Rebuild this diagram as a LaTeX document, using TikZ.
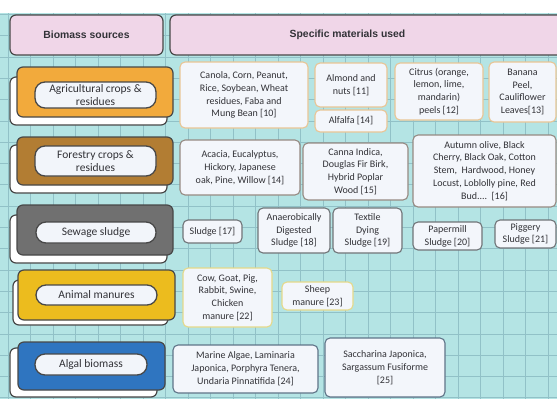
\documentclass[tikz,border=0pt]{standalone}
\usepackage{fontspec}
\setmainfont{Carlito}
\newfontfamily\headfont{Liberation Sans}
\definecolor{bgcyan}{RGB}{180,228,228}
\definecolor{gridc}{RGB}{145,193,199}
\definecolor{headpink}{RGB}{240,214,232}
\definecolor{edge}{RGB}{72,72,72}
\definecolor{txt}{RGB}{50,50,55}
\definecolor{boxfill}{RGB}{243,246,251}
\definecolor{pillfill}{RGB}{242,245,250}
\definecolor{catA}{RGB}{242,170,60}
\definecolor{catB}{RGB}{178,125,51}
\definecolor{catC}{RGB}{112,112,112}
\definecolor{catD}{RGB}{236,188,30}
\definecolor{catE}{RGB}{47,117,192}
\definecolor{brdA}{RGB}{233,197,149}
\definecolor{brdB}{RGB}{150,138,130}
\definecolor{brdC}{RGB}{112,116,120}
\definecolor{brdD}{RGB}{229,217,138}
\definecolor{brdE}{RGB}{95,116,136}
\begin{document}
\begin{tikzpicture}[x=1pt,y=-1pt,
  mat/.style={draw=#1, line width=1.1pt, rounded corners=5pt, fill=boxfill, align=center, inner sep=1pt, text=txt, font=\fontsize{10}{12.8}\selectfont},
  catbox/.style={draw=edge, line width=1.2pt, rounded corners=6pt, fill=#1, inner sep=0pt},
  backbox/.style={draw=edge, line width=1.2pt, rounded corners=6pt, fill=white, inner sep=0pt},
  pill/.style={draw=edge, line width=1.3pt, rounded corners=10pt, fill=pillfill, align=center, inner sep=0pt, text=txt, font=\fontsize{11.5}{12.5}\selectfont},
  headbox/.style={draw=edge, line width=1.2pt, rounded corners=6pt, fill=headpink, inner sep=0pt},
  headtext/.style={font=\headfont\bfseries\fontsize{10.4}{12}\selectfont, text=txt}
]
\useasboundingbox (0,0) rectangle (557,399);
\clip (0,0) rectangle (557,399);
% background and grid
\fill[white] (0,0) rectangle (557,13);
\fill[bgcyan] (0,13) rectangle (557,399);
\foreach \i in {0,...,24} {\draw[gridc, line width=0.7pt] (8+22.5*\i,13) -- (8+22.5*\i,399);}
\foreach \j in {0,...,18} {\draw[gridc, line width=0.7pt] (0,14.4+21.3*\j) -- (557,14.4+21.3*\j);}

% headers
\node[headbox, minimum width=153, minimum height=40] (bs) at (86.5,35) {};
\node[headtext] (bstxt) at (86.5,35) {Biomass sources};
\node[headbox, minimum width=395, minimum height=40] (sm) at (367.5,35) {};
\node[headtext] (smtxt) at (347.5,35) {Specific materials used};

% category 1
\node[backbox, minimum width=157, minimum height=48] (agb) at (88.5,101) {};
\node[catbox=catA, minimum width=156, minimum height=50] (agf) at (95,92) {};
\node[pill, minimum width=121, minimum height=26] (agp) at (95.5,95) {Agricultural crops \&\\residues};
% category 2
\node[backbox, minimum width=157, minimum height=48] (fob) at (88.5,169) {};
\node[catbox=catB, minimum width=156, minimum height=48] (fof) at (95,161) {};
\node[pill, minimum width=121, minimum height=30] (fop) at (95.5,161) {Forestry crops \&\\residues};
% category 3
\node[backbox, minimum width=157, minimum height=48] (seb) at (88.5,239) {};
\node[catbox=catC, minimum width=156, minimum height=50] (sef) at (95,230) {};
\node[pill, minimum width=120, minimum height=21] (sep) at (96,232.5) {Sewage sludge};
% category 4
\node[backbox, minimum width=155, minimum height=45] (anb) at (90.5,302.5) {};
\node[catbox=catD, minimum width=157, minimum height=50] (anf) at (96.5,295) {};
\node[pill, minimum width=121, minimum height=20] (anp) at (96.5,295) {Animal manures};
% category 5
\node[backbox, minimum width=147, minimum height=49] (alb) at (83.5,372.5) {};
\node[catbox=catE, minimum width=147, minimum height=48] (alf) at (91.5,366) {};
\node[pill, minimum width=112, minimum height=21] (alp) at (91,364.5) {Algal biomass};

% row 1 materials
\node[mat=brdA, minimum width=128, minimum height=66] (a1) at (244,95) {Canola, Corn, Peanut,\\Rice, Soybean, Wheat\\residues, Faba and\\Mung Bean [10]};
\node[mat=brdA, minimum width=72, minimum height=44] (a2) at (351,85) {Almond and\\nuts [11]};
\node[mat=brdA, minimum width=72, minimum height=22] (a3) at (351,121) {Alfalfa [14]};
\node[mat=brdA, minimum width=88, minimum height=57] (a4) at (439,91.5) {Citrus (orange,\\lemon, lime,\\mandarin)\\peels [12]};
\node[mat=brdA, minimum width=67, minimum height=60] (a5) at (522.5,92) {Banana\\Peel,\\Cauliflower\\Leaves[13]};

% row 2 materials
\node[mat=brdB, minimum width=120, minimum height=55] (f1) at (240,167.5) {Acacia, Eucalyptus,\\Hickory, Japanese\\oak, Pine, Willow [14]};
\node[mat=brdB, minimum width=105, minimum height=57] (f2) at (355.5,171.5) {Canna Indica,\\Douglas Fir Birk,\\Hybrid Poplar\\Wood [15]};
\node[mat=brdB, minimum width=143, minimum height=72] (f3) at (484.5,171) {Autumn olive, Black\\Cherry, Black Oak, Cotton\\Stem,\ \ Hardwood, Honey\\Locust, Loblolly pine, Red\\Bud....\ \ [16]};

% row 3 materials
\node[mat=brdC, minimum width=59, minimum height=23] (s1) at (212.5,231.5) {Sludge [17]};
\node[mat=brdC, minimum width=72, minimum height=45] (s2) at (294,230.5) {Anaerobically\\Digested\\Sludge [18]};
\node[mat=brdC, minimum width=69, minimum height=45] (s3) at (367.5,230.5) {Textile\\Dying\\Sludge [19]};
\node[mat=brdC, minimum width=69, minimum height=28] (s4) at (447.5,236) {Papermill\\Sludge [20]};
\node[mat=brdC, minimum width=61, minimum height=28] (s5) at (525.5,234) {Piggery\\Sludge [21]};

% row 4 materials
\node[mat=brdD, minimum width=89, minimum height=59] (m1) at (227.5,297.5) {Cow, Goat, Pig,\\Rabbit, Swine,\\Chicken\\manure [22]};
\node[mat=brdD, minimum width=71, minimum height=28] (m2) at (317.5,296) {Sheep\\manure [23]};

% row 5 materials
\node[mat=brdE, minimum width=145, minimum height=48] (g1) at (245.5,369) {Marine Algae, Laminaria\\Japonica, Porphyra Tenera,\\Undaria Pinnatifida [24]};
\node[mat=brdE, minimum width=120, minimum height=59] (g2) at (385,367.5) {Saccharina Japonica,\\Sargassum Fusiforme\\{[25]}};
\end{tikzpicture}
\end{document}
